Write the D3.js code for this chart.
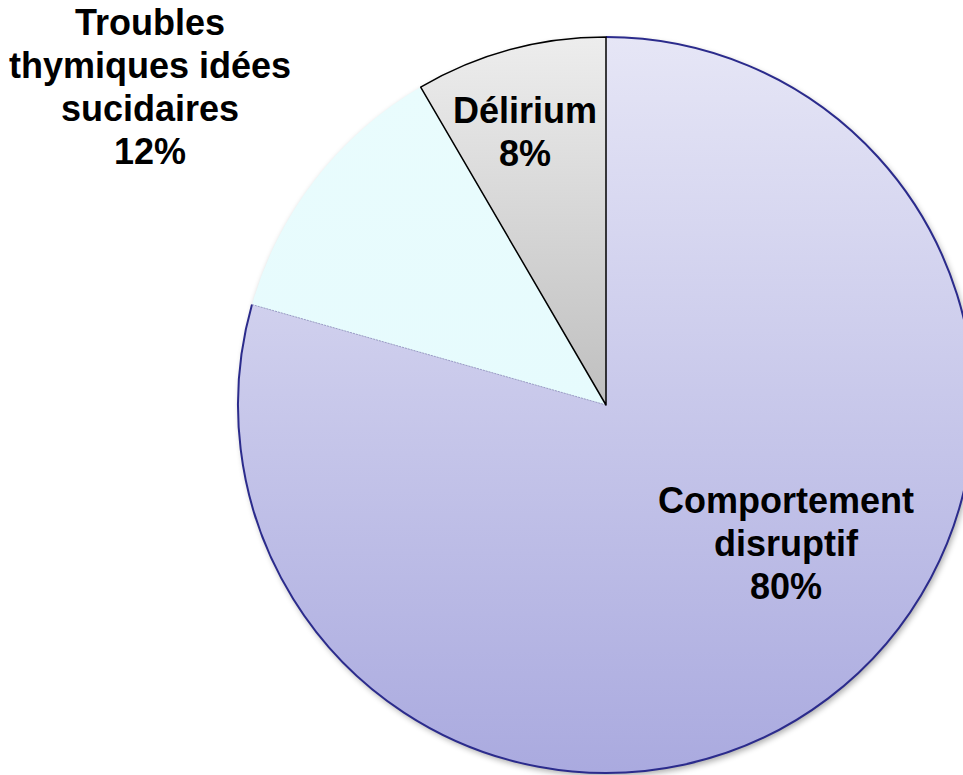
<!DOCTYPE html>
<html>
<head>
<meta charset="utf-8">
<script src="https://cdn.jsdelivr.net/npm/d3@7"></script>
<style>
  body { margin: 0; background: #fff; }
  text { font-family: "Liberation Sans", Arial, sans-serif; font-weight: bold; }
</style>
</head>
<body>
<script>
// data (slice shares as measured on the picture; labels as printed)
var categories = ["Comportement disruptif", "Troubles thymiques idées sucidaires", "Délirium"];
var values = [79.4, 12.2, 8.4];
var labelLines = [
  ["Comportement", "disruptif", "80%"],
  ["Troubles", "thymiques idées", "sucidaires", "12%"],
  ["Délirium", "8%"]
];

var width = 963, height = 775,
    cx = 606, cy = 405, radius = 368;

// where each label block sits, relative to pie centre
var labelPos = [[180, 500 - cy], [-456, 22 - cy], [-81, 110 - cy]];
var lineHeight = 43;

var svg = d3.select("body").append("svg")
    .attr("width", width)
    .attr("height", height);

var defs = svg.append("defs");

var grads = [
  ["g0", "#e6e6f6", "#aaaadf"],
  ["g1", "#e9fcfd", "#e6fbfd"],
  ["g2", "#ededed", "#bfbfbf"]
];
grads.forEach(function(g) {
  var lg = defs.append("linearGradient").attr("id", g[0])
      .attr("x1", 0).attr("y1", 0).attr("x2", 0).attr("y2", 1);
  lg.append("stop").attr("offset", "0%").attr("stop-color", g[1]);
  lg.append("stop").attr("offset", "100%").attr("stop-color", g[2]);
});

var shadow = defs.append("filter").attr("id", "shadow")
    .attr("x", "-10%").attr("y", "-10%").attr("width", "120%").attr("height", "120%");
shadow.append("feGaussianBlur").attr("in", "SourceAlpha").attr("stdDeviation", 3);
shadow.append("feOffset").attr("dx", 2).attr("dy", 3).attr("result", "b");
shadow.append("feComponentTransfer").append("feFuncA").attr("type", "linear").attr("slope", 0.35);

var g = svg.append("g").attr("transform", "translate(" + cx + "," + cy + ")");

g.append("circle").attr("r", radius).attr("fill", "#000").attr("filter", "url(#shadow)");

var pie = d3.pie().sort(null).value(function(d) { return d; });
var arcs = pie(values);
var arc = d3.arc().innerRadius(0).outerRadius(radius);

g.selectAll("path.slice")
  .data(arcs)
  .enter().append("path")
    .attr("class", "slice")
    .attr("d", arc)
    .attr("fill", function(d, i) { return "url(#g" + i + ")"; })
    .attr("stroke", "none");

// outer edge of the big slice
g.append("path")
    .attr("d", d3.arc().innerRadius(radius).outerRadius(radius)(arcs[0]))
    .attr("fill", "none")
    .attr("stroke", "#2b2b8c")
    .attr("stroke-width", 2);

// faint boundary between big slice and Troubles
var a = arcs[1].startAngle;
g.append("line")
    .attr("x1", 0).attr("y1", 0)
    .attr("x2", radius * Math.sin(a)).attr("y2", -radius * Math.cos(a))
    .attr("stroke", "#9a9ac8")
    .attr("stroke-width", 1)
    .attr("stroke-dasharray", "2,1");

// Délirium outlined in black
g.append("path")
    .attr("d", arc(arcs[2]))
    .attr("fill", "none")
    .attr("stroke", "#000")
    .attr("stroke-width", 1.5)
    .attr("stroke-linejoin", "round");

var labels = g.selectAll("text.label")
  .data(labelLines)
  .enter().append("text")
    .attr("class", "label")
    .attr("text-anchor", "middle")
    .attr("font-size", 36)
    .attr("fill", "#000")
    .attr("transform", function(d, i) {
      return "translate(" + labelPos[i][0] + "," + labelPos[i][1] + ")";
    });

labels.selectAll("tspan")
  .data(function(d) { return d; })
  .enter().append("tspan")
    .attr("x", 0)
    .attr("y", function(d, j) { return j * lineHeight; })
    .attr("dy", "0.35em")
    .text(function(d) { return d; });
</script>
</body>
</html>
